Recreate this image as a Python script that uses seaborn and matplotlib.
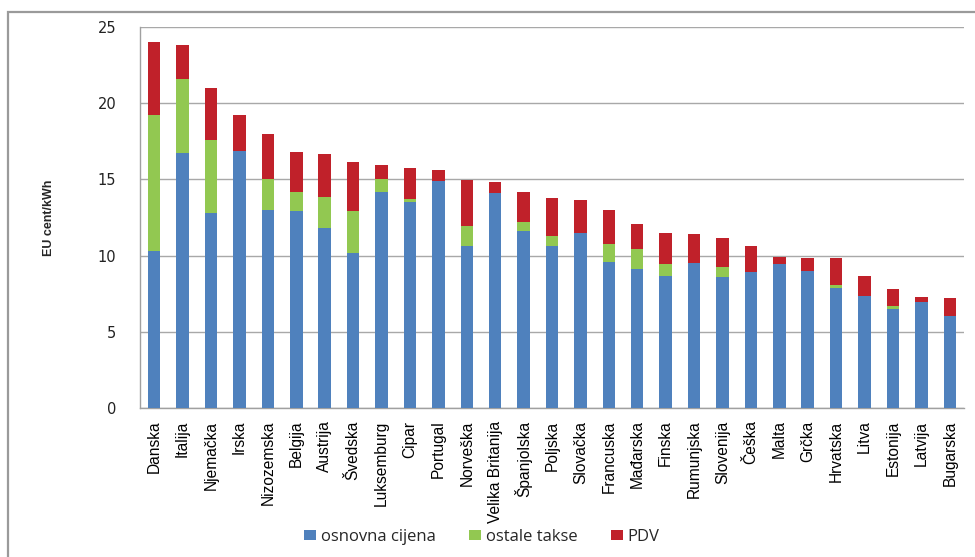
import matplotlib
matplotlib.use("Agg")
import matplotlib.pyplot as plt
from matplotlib.patches import Patch, Rectangle
from matplotlib.ticker import FixedLocator
import numpy as np
import pandas as pd
import seaborn as sns

# Electricity price components per country, EU cent/kWh
zemlje = ["Danska", "Italija", "Njemačka", "Irska", "Nizozemska", "Belgija",
          "Austrija", "Švedska", "Luksemburg", "Cipar", "Portugal", "Norveška",
          "Velika Britanija", "Španjolska", "Poljska", "Slovačka", "Francuska",
          "Mađarska", "Finska", "Rumunjska", "Slovenija", "Češka", "Malta",
          "Grčka", "Hrvatska", "Litva", "Estonija", "Latvija", "Bugarska"]
osnovna_cijena = [10.30, 16.75, 12.80, 16.85, 13.00, 12.90, 11.80, 10.15, 14.20,
                  13.50, 14.87, 10.65, 14.08, 11.60, 10.65, 11.48, 9.55, 9.12,
                  8.68, 9.53, 8.57, 8.94, 9.42, 9.00, 7.90, 7.37, 6.52, 6.93, 6.04]
ostale_takse = [8.90, 4.85, 4.80, 0.00, 2.00, 1.30, 2.05, 2.75, 0.80,
                0.20, 0.00, 1.30, 0.00, 0.60, 0.65, 0.00, 1.23, 1.30,
                0.75, 0.00, 0.70, 0.00, 0.00, 0.00, 0.15, 0.00, 0.15, 0.00, 0.00]
pdv = [4.80, 2.20, 3.40, 2.35, 3.00, 2.60, 2.80, 3.25, 0.95,
       2.05, 0.73, 3.00, 0.72, 2.00, 2.48, 2.20, 2.20, 1.67,
       2.06, 1.90, 1.86, 1.70, 0.50, 0.82, 1.77, 1.30, 1.14, 0.35, 1.18]
serije = ["osnovna cijena", "ostale takse", "PDV"]
boje = ["#4F81BD", "#92C851", "#C0212A"]
y_ticks = [0, 5, 10, 15, 20, 25]

df = pd.DataFrame({"zemlja": zemlje, "osnovna": osnovna_cijena,
                   "ostale": ostale_takse, "pdv": pdv})
df["do_ostale"] = df["osnovna"] + df["ostale"]
df["ukupno"] = df["do_ostale"] + df["pdv"]

sns.set_style("white")
fig = plt.figure(figsize=(9.75, 5.57), dpi=100)
ax = fig.add_axes([140 / 975, 1 - 408 / 557, 824 / 975, 381 / 557])

# Stacked bars: draw cumulative totals from the top layer down
sirina = 0.44
for stupac, boja in zip(["ukupno", "do_ostale", "osnovna"], boje[::-1]):
    sns.barplot(data=df, x="zemlja", y=stupac, order=zemlje, color=boja,
                width=sirina, saturation=1, ax=ax, zorder=3,
                edgecolor="none", linewidth=0)

ax.set_ylim(0, 25)
ax.set_xlim(-0.5, len(zemlje) - 0.5)
ax.set_yticks(y_ticks)
ax.set_yticklabels([str(t) for t in y_ticks], fontsize=10.5,
                   family="DejaVu Sans", color="#222222")
ax.grid(axis="y", color="#a8a8a8", linewidth=1.0, zorder=0)
ax.set_axisbelow(True)

ax.set_xticks(range(len(zemlje)))
ax.set_xticklabels(zemlje, rotation=90, fontsize=11.2,
                   family="Liberation Sans", color="black")
ax.xaxis.set_minor_locator(FixedLocator(np.arange(-0.5, len(zemlje), 1.0)))
ax.tick_params(axis="x", which="major", length=0, pad=9)
ax.tick_params(axis="x", which="minor", length=5, width=1, color="#a0a0a0",
               direction="out")
ax.tick_params(axis="y", length=5, width=1, color="#a0a0a0", direction="out",
               pad=12)

for s in ["top", "right"]:
    ax.spines[s].set_visible(False)
for s in ["left", "bottom"]:
    ax.spines[s].set_color("#a0a0a0")
    ax.spines[s].set_linewidth(1.0)

ax.set_xlabel("")
ax.set_ylabel("EU cent/kWh", fontsize=9, fontweight="bold",
              family="Liberation Sans")
ax.yaxis.set_label_coords(-0.103, 0.5)

ruke = [Patch(facecolor=b, edgecolor="none", label=s)
        for s, b in zip(serije, boje)]
fig.legend(handles=ruke, loc="center", bbox_to_anchor=(482 / 975, 1 - 537 / 557),
           ncol=3, frameon=False, handlelength=0.7,
           handleheight=0.55, handletextpad=0.3, columnspacing=2.0,
           prop={"family": "Open Sans", "size": 12})

# Outer chart frame
fig.patches.append(Rectangle((8 / 975, -0.1), 1.2, 0.1 + (557 - 12) / 557,
                             transform=fig.transFigure, fill=False,
                             edgecolor="#9a9a9a", linewidth=1.6))

fig.savefig("out.png", dpi=100)
